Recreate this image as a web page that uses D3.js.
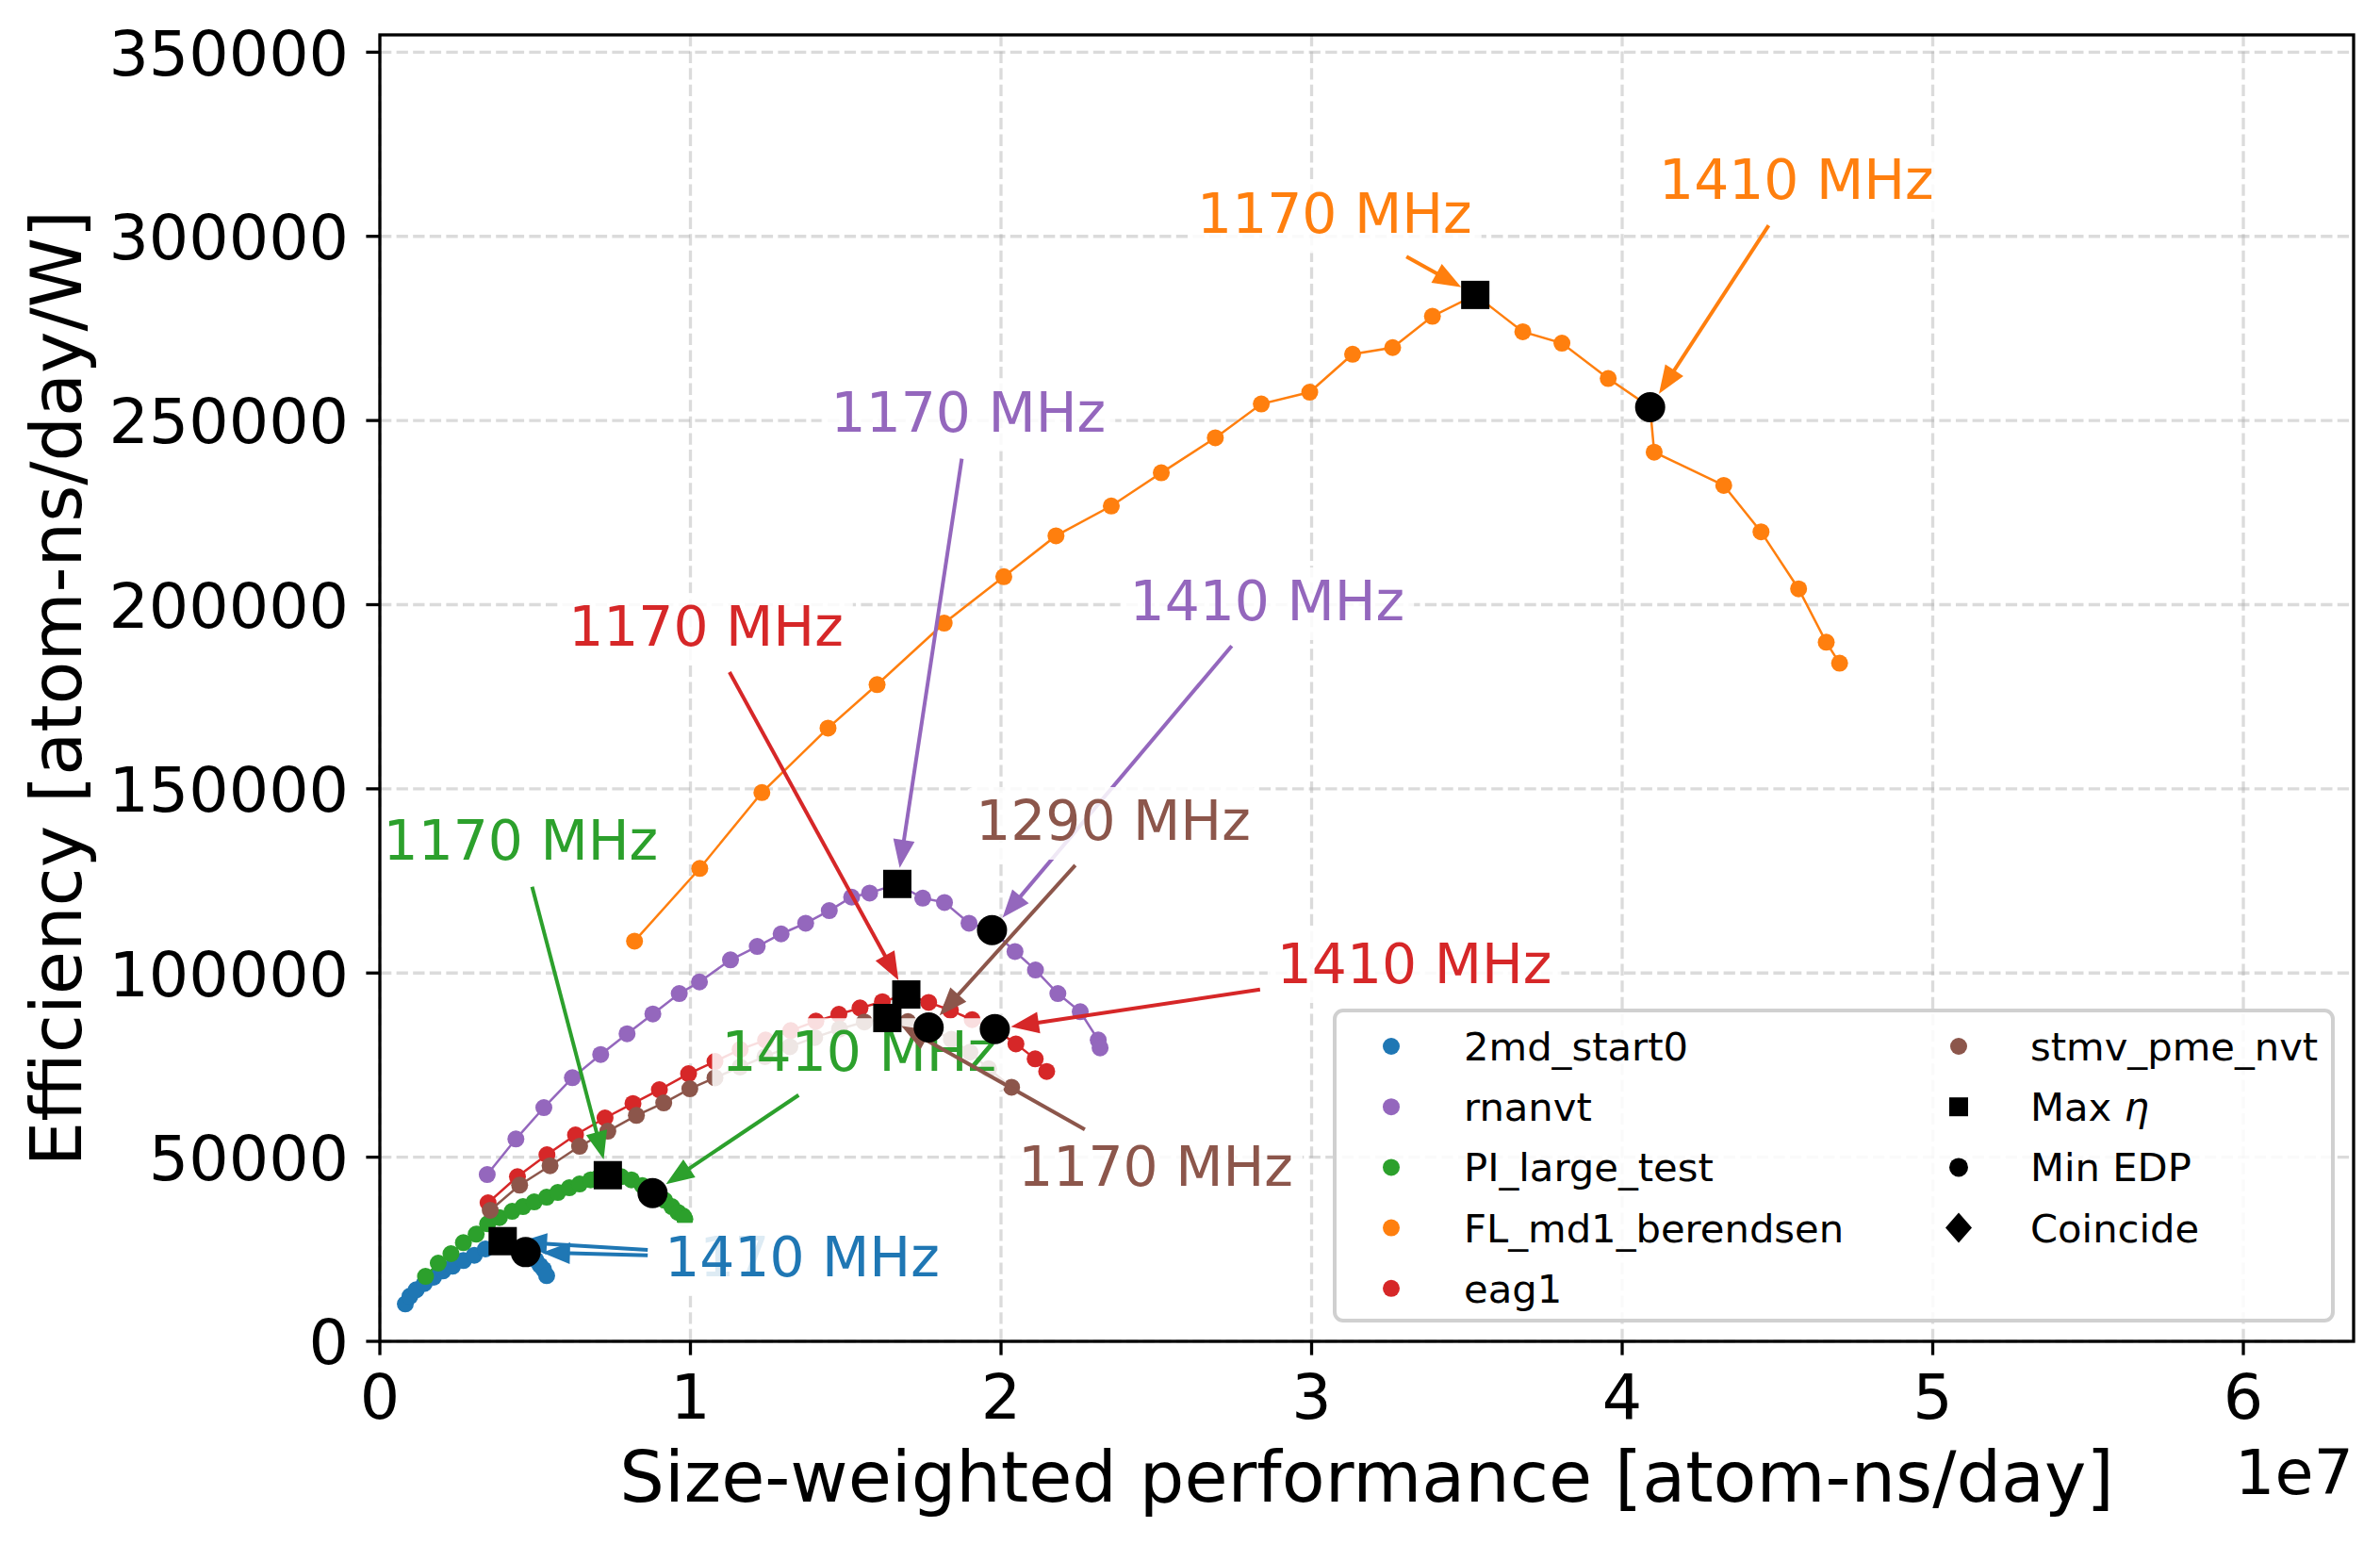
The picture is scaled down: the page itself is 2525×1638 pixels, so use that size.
<!DOCTYPE html>
<html>
<head>
<meta charset="utf-8">
<script src="https://cdn.jsdelivr.net/npm/d3@7"></script>
<style>
body { margin: 0; background: #fff; }
text { font-family: "DejaVu Sans", sans-serif; }
</style>
</head>
<body>
<svg id="chart"></svg>
<script>
// x values are in units of 1e7 atom-ns/day, y in atom-ns/day/W
var md2Perf = [0.082, 0.097, 0.117, 0.143, 0.173, 0.203, 0.234, 0.269, 0.304, 0.340, 0.3955, 0.4695, 0.502, 0.516, 0.527, 0.537];
var md2Eff  = [10160, 12280, 13990, 15690, 17400, 19110, 20390, 21920, 23370, 25080, 27200, 24230, 22080, 20600, 19520, 17830];

var rnaPerf = [0.3457, 0.438, 0.528, 0.620, 0.711, 0.796, 0.879, 0.964, 1.029, 1.129, 1.215, 1.292, 1.371, 1.447, 1.519, 1.577, 1.666, 1.748, 1.818, 1.897, 1.971, 2.045, 2.111, 2.183, 2.255, 2.313, 2.319];
var rnaEff  = [45290, 54940, 63460, 71570, 77870, 83500, 88870, 94420, 97570, 103560, 107220, 110620, 113530, 116940, 120600, 121720, 124180, 120340, 119160, 113530, 111640, 105850, 100810, 94420, 89480, 81800, 79660];

var piPerf = [0.147, 0.188, 0.229, 0.269, 0.310, 0.347, 0.385, 0.426, 0.461, 0.497, 0.537, 0.573, 0.610, 0.643, 0.679, 0.705, 0.734, 0.777, 0.810, 0.845, 0.878, 0.917, 0.940, 0.960, 0.977, 0.982];
var piEff  = [17650, 21240, 23800, 26790, 29090, 31900, 33600, 35310, 36590, 37870, 39150, 40430, 41710, 42730, 43830, 44500, 45110, 44700, 43830, 42300, 40250, 38300, 36590, 35000, 34030, 33190];

var flPerf = [0.820, 1.030, 1.230, 1.443, 1.601, 1.817, 2.009, 2.177, 2.355, 2.516, 2.690, 2.838, 2.994, 3.132, 3.261, 3.389, 3.527, 3.680, 3.806, 3.955, 4.090, 4.103, 4.327, 4.447, 4.568, 4.657, 4.700];
var flEff  = [108650, 128400, 149000, 166500, 178300, 195000, 207600, 218700, 226800, 235800, 245300, 254500, 257700, 268000, 269800, 278300, 284100, 274100, 271000, 261400, 253600, 241400, 232400, 219800, 204300, 189800, 184100];

var eagPerf = [0.3485, 0.443, 0.538, 0.630, 0.725, 0.815, 0.900, 0.994, 1.079, 1.160, 1.242, 1.323, 1.404, 1.478, 1.546, 1.618, 1.695, 1.767, 1.837, 1.907, 1.980, 2.048, 2.110, 2.147];
var eagEff  = [37620, 44700, 50670, 56040, 60650, 64570, 68320, 72670, 76000, 79250, 81800, 84360, 86920, 88790, 90500, 92200, 94170, 92030, 89900, 87330, 84780, 80770, 76690, 73260];

var stmvPerf = [0.3554, 0.450, 0.548, 0.643, 0.734, 0.826, 0.914, 0.998, 1.079, 1.160, 1.240, 1.320, 1.400, 1.480, 1.560, 1.634, 1.700, 1.767, 1.840, 1.900, 1.960, 2.034];
var stmvEff  = [35570, 42400, 47680, 52970, 57060, 61330, 64730, 68570, 71560, 74500, 77300, 80000, 82500, 84800, 86700, 87770, 86800, 85210, 82000, 78500, 74000, 69000];

var seriesNames  = ["2md_start0", "rnanvt", "PI_large_test", "FL_md1_berendsen", "eag1", "stmv_pme_nvt"];
var seriesColors = ["#1f77b4", "#9467bd", "#2ca02c", "#ff7f0e", "#d62728", "#8c564b"];
var seriesPerf = [md2Perf, rnaPerf, piPerf, flPerf, eagPerf, stmvPerf];
var seriesEff  = [md2Eff, rnaEff, piEff, flEff, eagEff, stmvEff];

// max efficiency (square) and min EDP (circle) points per series
var maxEtaPerf = [0.3955, 1.666, 0.734, 3.527, 1.695, 1.634];
var maxEtaEff  = [27200, 124180, 45110, 284100, 94170, 87770];
var minEdpPerf = [0.4695, 1.971, 0.878, 4.090, 1.980, 1.767];
var minEdpEff  = [24230, 111640, 40250, 253600, 84780, 85210];

// annotations: series index, which marker, label, text centre (data units)
var annoSeries = [0, 0, 1, 1, 2, 2, 3, 3, 4, 4, 5, 5];
var annoKind   = ["max", "min", "max", "min", "max", "min", "max", "min", "max", "min", "max", "min"];
var annoLabel  = ["1170 MHz", "1410 MHz", "1170 MHz", "1410 MHz", "1170 MHz", "1410 MHz",
                  "1170 MHz", "1410 MHz", "1170 MHz", "1410 MHz", "1170 MHz", "1290 MHz"];
var annoTextX  = [1.3596, 1.3596, 1.895, 2.857, 0.4534, 1.5427, 3.074, 4.561, 1.050, 3.331, 2.498, 2.361];
var annoTextY  = [23210, 23210, 252470, 201200, 136230, 78810, 306300, 315500, 194300, 102700, 47650, 141600];

var xTicks = [0, 1, 2, 3, 4, 5, 6];
var yTicks = [0, 50000, 100000, 150000, 200000, 250000, 300000, 350000];

var W = 2525, H = 1638;
var plotL = 403, plotR = 2497, plotT = 37, plotB = 1423;

var svg = d3.select("#chart").attr("width", W).attr("height", H);
svg.append("rect").attr("width", W).attr("height", H).attr("fill", "#fff");

var x = d3.scaleLinear().domain([0, 6.355]).range([plotL, plotR]);
var y = d3.scaleLinear().domain([0, 354700]).range([plotB, plotT]);

// grid
var grid = svg.append("g");
grid.selectAll(".gx").data(xTicks).enter().append("line")
    .attr("x1", function(d){ return x(d); }).attr("x2", function(d){ return x(d); })
    .attr("y1", plotT).attr("y2", plotB);
grid.selectAll(".gy").data(yTicks).enter().append("line")
    .attr("x1", plotL).attr("x2", plotR)
    .attr("y1", function(d){ return y(d); }).attr("y2", function(d){ return y(d); });
grid.selectAll("line").attr("stroke", "#b0b0b0").attr("stroke-opacity", 0.45)
    .attr("stroke-width", 3.3).attr("stroke-dasharray", "12.3,5.3");

// series lines and dots
var line = d3.line().x(function(d){ return x(d[0]); }).y(function(d){ return y(d[1]); });
for (var i = 0; i < seriesNames.length; i++) {
    var pts = d3.zip(seriesPerf[i], seriesEff[i]);
    var g = svg.append("g");
    g.append("path").datum(pts).attr("d", line).attr("fill", "none")
        .attr("stroke", seriesColors[i]).attr("stroke-width", 2.5);
    g.selectAll("circle").data(pts).enter().append("circle")
        .attr("cx", function(d){ return x(d[0]); }).attr("cy", function(d){ return y(d[1]); })
        .attr("r", 9).attr("fill", seriesColors[i]);
}

// annotations
var fs = 58.3;
for (var k = 0; k < annoLabel.length; k++) {
    var s = annoSeries[k];
    var col = seriesColors[s];
    var tx, ty;
    if (annoKind[k] == "max") { tx = x(maxEtaPerf[s]); ty = y(maxEtaEff[s]); }
    else { tx = x(minEdpPerf[s]); ty = y(minEdpEff[s]); }
    var cx = x(annoTextX[k]), capY = y(annoTextY[k]);
    var base = capY + 0.365 * fs;
    var ag = svg.append("g");
    var box = ag.append("rect");
    var t = ag.append("text").attr("x", cx).attr("y", base).attr("text-anchor", "middle")
        .attr("font-size", fs).attr("fill", col).text(annoLabel[k]);
    var tw = t.node().getComputedTextLength();
    var bx0 = cx - tw / 2 - 10, bx1 = cx + tw / 2 + 10;
    var by0 = base - 0.96 * fs, by1 = base + 0.36 * fs;
    box.attr("x", bx0).attr("y", by0).attr("width", bx1 - bx0).attr("height", by1 - by0)
        .attr("rx", 8).attr("fill", "#fff").attr("fill-opacity", 0.85);
    // arrow from box edge to marker
    var mx = (bx0 + bx1) / 2, my = (by0 + by1) / 2;
    var dx = tx - mx, dy = ty - my, len = Math.sqrt(dx * dx + dy * dy);
    var ux = dx / len, uy = dy / len;
    var tt = Math.min((bx1 - bx0) / 2 / Math.abs(dx || 1e-9), (by1 - by0) / 2 / Math.abs(dy || 1e-9));
    var sx = mx + dx * tt + ux * 8, sy = my + dy * tt + uy * 8;
    var ex = tx - ux * 20, ey = ty - uy * 20;
    var hl = 26, hw = 10;
    var bxh = ex - ux * hl, byh = ey - uy * hl;
    ag.append("line").attr("x1", sx).attr("y1", sy).attr("x2", bxh).attr("y2", byh)
        .attr("stroke", col).attr("stroke-width", 4);
    ag.append("path")
        .attr("d", "M" + ex + "," + ey + "L" + (bxh - uy * hw) + "," + (byh + ux * hw) +
              "L" + (bxh + uy * hw) + "," + (byh - ux * hw) + "Z")
        .attr("fill", col).attr("stroke", col).attr("stroke-width", 2).attr("stroke-linejoin", "miter");
}

// black markers, kept above the label boxes
var mk = svg.append("g");
mk.selectAll("rect").data(d3.zip(maxEtaPerf, maxEtaEff)).enter().append("rect")
    .attr("x", function(d){ return x(d[0]) - 15; }).attr("y", function(d){ return y(d[1]) - 15; })
    .attr("width", 30).attr("height", 30).attr("fill", "#000");
mk.selectAll("circle").data(d3.zip(minEdpPerf, minEdpEff)).enter().append("circle")
    .attr("cx", function(d){ return x(d[0]); }).attr("cy", function(d){ return y(d[1]); })
    .attr("r", 16).attr("fill", "#000");

// spines and ticks
var ax = svg.append("g");
ax.append("rect").attr("x", plotL).attr("y", plotT).attr("width", plotR - plotL).attr("height", plotB - plotT)
    .attr("fill", "none").attr("stroke", "#000").attr("stroke-width", 3.3);
ax.selectAll(".tx").data(xTicks).enter().append("line")
    .attr("x1", function(d){ return x(d); }).attr("x2", function(d){ return x(d); })
    .attr("y1", plotB).attr("y2", plotB + 14.6).attr("stroke", "#000").attr("stroke-width", 3.3);
ax.selectAll(".ty").data(yTicks).enter().append("line")
    .attr("x1", plotL - 14.6).attr("x2", plotL)
    .attr("y1", function(d){ return y(d); }).attr("y2", function(d){ return y(d); })
    .attr("stroke", "#000").attr("stroke-width", 3.3);
ax.selectAll(".lx").data(xTicks).enter().append("text")
    .attr("x", function(d){ return x(d); }).attr("y", 1505).attr("text-anchor", "middle")
    .attr("font-size", 66.7).text(function(d){ return d; });
ax.selectAll(".ly").data(yTicks).enter().append("text")
    .attr("x", 370).attr("y", function(d){ return y(d) + 24.3; }).attr("text-anchor", "end")
    .attr("font-size", 66.7).text(function(d){ return d; });
ax.append("text").attr("x", plotR).attr("y", 1585).attr("text-anchor", "end")
    .attr("font-size", 66.7).text("1e7");
ax.append("text").attr("x", (plotL + plotR) / 2).attr("y", 1593).attr("text-anchor", "middle")
    .attr("font-size", 75).text("Size-weighted performance [atom-ns/day]");
ax.append("text").attr("transform", "translate(86," + ((plotT + plotB) / 2) + ") rotate(-90)")
    .attr("text-anchor", "middle").attr("font-size", 75).text("Efficiency [atom-ns/day/W]");

// legend
var leg = svg.append("g");
leg.append("rect").attr("x", 1416).attr("y", 1072).attr("width", 1059).attr("height", 329)
    .attr("rx", 9).attr("fill", "#fff").attr("fill-opacity", 0.85)
    .attr("stroke", "#d0d0d0").attr("stroke-width", 4);
var rowY = function(r){ return 1110 + r * 64.2; };
for (var j = 0; j < seriesNames.length; j++) {
    var col2 = j >= 5;
    var r = col2 ? j - 5 : j;
    var mxp = col2 ? 2078 : 1476, txp = col2 ? 2154 : 1553;
    leg.append("circle").attr("cx", mxp).attr("cy", rowY(r)).attr("r", 9).attr("fill", seriesColors[j]);
    leg.append("text").attr("x", txp).attr("y", rowY(r) + 15).attr("font-size", 41.7).text(seriesNames[j]);
}
leg.append("rect").attr("x", 2068).attr("y", rowY(1) - 10).attr("width", 20).attr("height", 20).attr("fill", "#000");
var etaText = leg.append("text").attr("x", 2154).attr("y", rowY(1) + 15).attr("font-size", 41.7);
etaText.append("tspan").text("Max ");
etaText.append("tspan").attr("font-style", "italic").text("\u03b7");
leg.append("text").attr("x", 2154).attr("y", rowY(2) + 15).attr("font-size", 41.7).text("Min EDP");
leg.append("circle").attr("cx", 2078).attr("cy", rowY(2)).attr("r", 10).attr("fill", "#000");
leg.append("path").attr("d", "M2078," + (rowY(3) - 16) + "L2092," + rowY(3) + "L2078," + (rowY(3) + 16) + "L2064," + rowY(3) + "Z")
    .attr("fill", "#000");
leg.append("text").attr("x", 2154).attr("y", rowY(3) + 15).attr("font-size", 41.7).text("Coincide");
</script>
</body>
</html>
